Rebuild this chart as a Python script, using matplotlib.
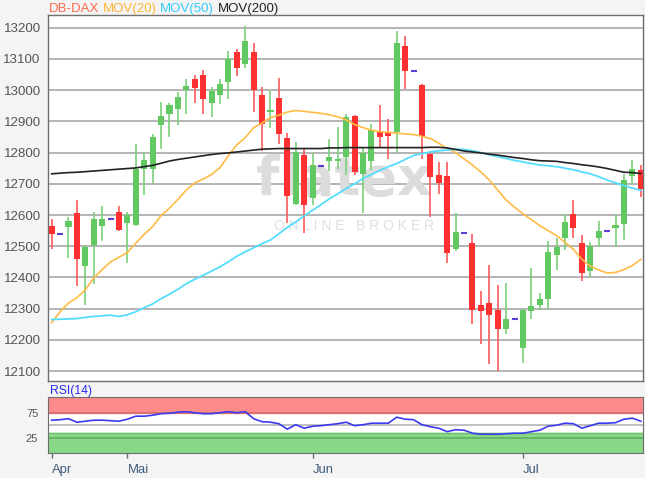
import matplotlib

matplotlib.use("Agg")
import matplotlib.pyplot as plt
import numpy as np

plt.rcParams["font.family"] = ["Liberation Sans", "DejaVu Sans"]

# DB-DAX daily candles (flat days: open == high == low == close, drawn as a dash)
opens = [12565, 12540, 12560, 12605, 12436, 12505, 12565, 12587, 12610, 12573,
         12567, 12749, 12747, 12888, 12923, 12941, 13000, 13035, 13050, 12960,
         12984, 13027, 13123, 13083, 13121, 12984, 12931, 12975, 12848, 12636,
         12791, 12655, 12757, 12772, 12773, 12786, 12918, 12733, 12772, 12870,
         12864, 12866, 13142, 13061, 13016, 12794, 12728, 12724, 12491, 12543,
         12509, 12310, 12319, 12295, 12234, 12266, 12173, 12293, 12312, 12330,
         12473, 12527, 12602, 12509, 12422, 12527, 12550, 12557, 12572, 12726,
         12745]
highs = [12588, 12540, 12593, 12649, 12503, 12610, 12629, 12587, 12629, 12610,
         12829, 12800, 12860, 12963, 12960, 12993, 13035, 13048, 13064, 13011,
         13035, 13125, 13132, 13205, 13150, 13011, 12997, 13040, 12864, 12834,
         12813, 12799, 12757, 12843, 12882, 12925, 12922, 12818, 12893, 12952,
         12909, 13189, 13174, 13061, 13019, 12802, 12770, 12770, 12606, 12543,
         12540, 12355, 12441, 12377, 12383, 12266, 12298, 12429, 12349, 12518,
         12527, 12604, 12647, 12536, 12514, 12582, 12550, 12602, 12730, 12777,
         12759]
lows = [12490, 12540, 12462, 12374, 12310, 12379, 12518, 12587, 12548, 12447,
        12565, 12663, 12704, 12811, 12849, 12888, 12925, 12960, 12924, 12914,
        12957, 12973, 13046, 13072, 12930, 12804, 12879, 12826, 12575, 12633,
        12543, 12633, 12757, 12740, 12749, 12727, 12729, 12607, 12743, 12818,
        12781, 12800, 13003, 13061, 12781, 12594, 12668, 12447, 12484, 12543,
        12250, 12186, 12124, 12100, 12220, 12266, 12127, 12266, 12296, 12298,
        12424, 12488, 12527, 12387, 12402, 12497, 12550, 12502, 12520, 12700,
        12657]
closes = [12538, 12540, 12580, 12458, 12497, 12586, 12586, 12587, 12551, 12601,
          12749, 12775, 12850, 12917, 12952, 12978, 13013, 13007, 12971, 12999,
          13019, 13099, 13070, 13158, 13000, 12893, 12935, 12861, 12661, 12802,
          12633, 12759, 12757, 12786, 12779, 12914, 12738, 12800, 12872, 12849,
          12853, 13150, 13061, 13061, 12853, 12722, 12702, 12477, 12544, 12543,
          12296, 12293, 12280, 12234, 12266, 12266, 12295, 12308, 12332, 12483,
          12497, 12577, 12558, 12415, 12501, 12550, 12550, 12567, 12713, 12749,
          12684]

mov20 = [12255, 12290, 12318, 12335, 12360, 12398, 12425, 12450, 12465, 12480,
         12510, 12538, 12563, 12598, 12622, 12650, 12680, 12703, 12715, 12730,
         12752, 12790, 12825, 12848, 12880, 12895, 12912, 12920, 12930, 12935,
         12932, 12929, 12926, 12921, 12915, 12905, 12890, 12880, 12872, 12867,
         12865, 12862, 12860, 12858, 12852, 12845, 12830, 12813, 12800, 12780,
         12760, 12738, 12712, 12680, 12648, 12625, 12604, 12585, 12566, 12550,
         12534, 12512, 12490, 12458, 12436, 12424, 12414, 12416, 12425, 12438,
         12458]
mov50 = [12265, 12266, 12267, 12268, 12272, 12275, 12277, 12279, 12275, 12280,
         12290, 12303, 12315, 12332, 12346, 12362, 12380, 12394, 12407, 12420,
         12434, 12450, 12468, 12482, 12495, 12508, 12520, 12540, 12560, 12578,
         12597, 12615, 12633, 12652, 12668, 12685, 12700, 12717, 12730, 12743,
         12755, 12765, 12778, 12791, 12797, 12802, 12806, 12808, 12811, 12810,
         12806, 12800, 12793, 12787, 12781, 12775, 12770, 12765, 12760, 12758,
         12755, 12750, 12745, 12738, 12732, 12723, 12712, 12703, 12694, 12686,
         12679]
mov200 = [12732, 12734, 12736, 12737, 12739, 12741, 12743, 12745, 12747, 12749,
          12751, 12755, 12759, 12766, 12773, 12778, 12782, 12786, 12790, 12794,
          12797, 12799, 12802, 12805, 12808, 12811, 12812, 12813, 12813, 12813,
          12813, 12813, 12813, 12815, 12815, 12816, 12816, 12816, 12816, 12816,
          12816, 12816, 12816, 12816, 12816, 12817, 12817, 12815, 12810, 12805,
          12802, 12799, 12795, 12792, 12788, 12784, 12781, 12777, 12774, 12773,
          12772, 12768, 12765, 12761, 12758, 12754, 12749, 12743, 12737, 12736,
          12733]
rsi14 = [60, 61, 63, 56, 58, 60, 60, 59, 58, 62,
         68, 68, 70, 73, 74, 76, 77, 75, 73, 73,
         75, 77, 75, 77, 63, 57, 56, 53, 42, 51,
         44, 48, 49, 51, 53, 56, 49, 51, 54, 54,
         54, 66, 62, 61, 51, 47, 44, 37, 41, 40,
         34, 32, 32, 32, 33, 34, 34, 37, 40, 48,
         50, 54, 53, 44, 49, 54, 54, 55, 62, 64,
         58]

price_ticks = [12100, 12200, 12300, 12400, 12500, 12600, 12700, 12800, 12900, 13000, 13100, 13200]
rsi_ticks = [25, 75]
month_starts = [0, 9, 31, 56]
month_labels = ["Apr", "Mai", "Jun", "Jul"]
legend_labels = ["DB-DAX", "MOV(20)", "MOV(50)", "MOV(200)"]
legend_colors = ["#FF6A4D", "#FFB733", "#33CCFF", "#222222"]

W, H = 645, 478
fig = plt.figure(figsize=(W / 100, H / 100), dpi=100, facecolor="#F4F4F4")
ax = fig.add_axes([48.3 / W, 1 - 381 / H, 595 / W, 366 / H])
ax_rsi = fig.add_axes([48.3 / W, 1 - 452.7 / H, 595 / W, 56 / H])

o = np.array(opens, dtype=float)
h = np.array(highs, dtype=float)
l = np.array(lows, dtype=float)
c = np.array(closes, dtype=float)
x = np.arange(len(c))

flat = (o == c) & (h == l)
up = (c >= o) & ~flat
down = (c < o) & ~flat

# watermark (behind the candles, over the grid)
ax.text(0.497, 0.55, "flatex", transform=ax.transAxes, ha="center", va="center",
        fontsize=39, fontweight="bold", family="DejaVu Sans", color="#DCDCDC", zorder=1.5)
ax.text(0.514, 0.424, "O N L I N E   B R O K E R", transform=ax.transAxes,
        ha="center", va="center", fontsize=10, color="#E0E0E0", zorder=1.5)

# candles
ax.vlines(x[up], l[up], h[up], color="#7ACF7A", lw=1.2, zorder=2)
ax.vlines(x[down], l[down], h[down], color="#FF5A5A", lw=1.2, zorder=2)
ax.bar(x[up], (c - o)[up], bottom=o[up], width=0.72, color="#62C862", zorder=3)
ax.bar(x[down], (o - c)[down], bottom=c[down], width=0.72, color="#FF3030", zorder=3)
ax.hlines(c[flat], x[flat] - 0.36, x[flat] + 0.36, color="#5B3FD6", lw=1.5, zorder=3)

# moving averages
ax.plot(x, mov20, color="#FFBB44", lw=1.2, zorder=4)
ax.plot(x, mov50, color="#55DDFF", lw=1.3, zorder=4)
ax.plot(x, mov200, color="#222222", lw=1.2, zorder=4)

ax.set_xlim(-0.4, 70.3)
ax.set_ylim(12068, 13241)
ax.set_facecolor("white")
ax.set_yticks(price_ticks)
ax.set_yticklabels([str(v) for v in price_ticks])
ax.set_xticks([])
ax.grid(axis="y", color="#B4B4B4", lw=1.4, zorder=1)
ax.set_axisbelow(True)
ax.tick_params(axis="y", length=0, pad=5.5, labelsize=9.6, labelcolor="#555555")
for side in ["left", "right", "top", "bottom"]:
    ax.spines[side].set_color("#6E6E6E")
    ax.spines[side].set_linewidth(1.0)

# RSI panel
ax_rsi.set_xlim(-0.4, 70.3)
ax_rsi.set_ylim(-5, 107)
ax_rsi.set_facecolor("white")
ax_rsi.axhspan(74, 107, color="#FF8A8A", zorder=1)
ax_rsi.axhline(75, color="#D46C6C", lw=1.2, zorder=2)
ax_rsi.axhspan(-5, 34, color="#88D888", zorder=1)
ax_rsi.axhline(33.5, color="#70C070", lw=1.0, zorder=2)
ax_rsi.axhline(25, color="#62B062", lw=1.2, zorder=2)
ax_rsi.axhline(50, color="#B4B4B4", lw=1.2, zorder=2)
ax_rsi.plot(x, rsi14, color="#3A3AF0", lw=1.2, zorder=3)
ax_rsi.set_yticks(rsi_ticks)
ax_rsi.set_yticklabels([str(v) for v in rsi_ticks])
ax_rsi.tick_params(axis="y", length=0, pad=7.2, labelsize=8, labelcolor="#555555")
ax_rsi.set_xticks(month_starts)
ax_rsi.set_xticklabels(month_labels, ha="left")
ax_rsi.tick_params(axis="x", length=3.8, width=1, color="#5A6E86", pad=4.5,
                   labelsize=9.4, labelcolor="#3E5C7A")
for side in ["left", "right", "top", "bottom"]:
    ax_rsi.spines[side].set_color("#6E6E6E")
ax_rsi.text(50 / W, 1 - 391 / H, "RSI(14)", transform=fig.transFigure, ha="left",
            va="center", fontsize=8.7, color="#2B2BF0")

# legend row above the chart
renderer = fig.canvas.get_renderer()
x0 = 49.0
for label, col in zip(legend_labels, legend_colors):
    t = fig.text(x0 / W, 1 - 9 / H, label, color=col, fontsize=9.5, va="center", ha="left")
    x0 += t.get_window_extent(renderer).width + 3.5

fig.savefig("out.png", dpi=100, facecolor=fig.get_facecolor())
